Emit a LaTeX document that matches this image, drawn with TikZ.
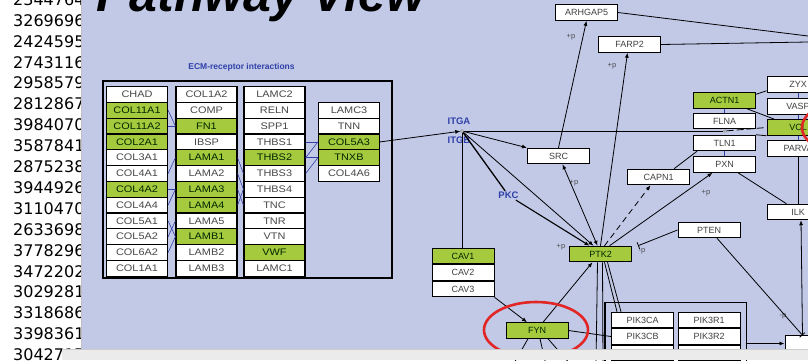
\documentclass[tikz,border=0pt]{standalone}
\usepackage{fontspec}
\setmainfont{Liberation Sans}
\newfontfamily\ecmfont[FakeStretch=1.15]{Liberation Sans}
\newfontfamily\numfont{DejaVu Sans}
\usetikzlibrary{positioning,calc,arrows.meta,fit,shapes.geometric}
\definecolor{panel}{RGB}{193,201,231}
\definecolor{hitgreen}{RGB}{166,202,62}
\definecolor{linkblue}{RGB}{48,64,168}
\definecolor{ringred}{RGB}{226,38,38}

\begin{document}
\begin{tikzpicture}[x=1pt, y=-1pt,
    gene/.style={draw=black, line width=1pt, fill=white, minimum width=62pt,
                 minimum height=15.5pt, inner sep=0pt, text=black!75,
                 font=\fontsize{9}{9}\selectfont},
    hitgene/.style={gene, fill=hitgreen, text=green!15!black},
    cell/.style={draw=black, line width=1.2pt, fill=white, minimum width=61pt,
                 minimum height=15.8pt, inner sep=0pt, text=black!72,
                 font=\ecmfont\fontsize{9.5}{9.5}\selectfont},
    nohit/.style={},
    hit/.style={fill=hitgreen, text=green!15!black},
    grpframe/.style={draw=black, line width=1.2pt},
    arr/.style={-{Latex[length=5pt,width=4pt]}, line width=0.8pt},
    link/.style={line width=0.8pt},
    ppi/.style={draw=linkblue, line width=0.6pt},
    famlab/.style={text=linkblue, font=\bfseries\fontsize{9.5}{9.5}\selectfont, inner sep=1pt},
    plab/.style={text=black!70, font=\fontsize{7.5}{7.5}\selectfont, inner sep=0pt},
    junc/.style={circle, draw=black!45, fill=white, inner sep=1pt, line width=0.6pt},
    ring/.style={draw=ringred, line width=2.6pt, ellipse, minimum width=104pt, minimum height=56pt}]
\useasboundingbox (0,0) rectangle (808,360);
\clip (0,0) rectangle (808,360);

% screen background
\fill[white] (0,0) rectangle (82,360);
\fill[panel] (82,0) rectangle (808,360);
\draw[black!25, line width=1.5pt] (81.5,0) -- (81.5,360);

% id column
\begin{scope}
  \clip (0,0) rectangle (80,360);
  \foreach \v [count=\i from 0] in {2344764,3269696,2424595,2743116,2958579,2812867,
      3984070,3587841,2875238,3944926,3110470,2633698,3778296,3472202,3029281,
      3318686,3398361,3042717}
    \node[anchor=west, inner sep=0pt, font=\numfont\fontsize{16}{16}\selectfont] (id\i)
      at (13,-0.5+20.9*\i) {\v};
\end{scope}

\node[anchor=base west, inner sep=0pt, font=\bfseries\itshape\fontsize{50}{50}\selectfont]
  (title) at (96,11) {Pathway View};

% ECM-receptor block
\node[famlab, font=\bfseries\fontsize{8.5}{8.5}\selectfont] (ecmt) at (241.5,67) {ECM-receptor interactions};
\node[grpframe, inner sep=0pt, fit={(103,81) (392,278)}] (ecm) {};
\foreach \g/\s [count=\i from 0] in {CHAD/nohit,COL11A1/hit,COL11A2/hit,COL2A1/hit,
    COL3A1/nohit,COL4A1/nohit,COL4A2/hit,COL4A4/nohit,COL5A1/nohit,COL5A2/nohit,
    COL6A2/nohit,COL1A1/nohit}
  \node[cell,\s] (a\i) at (137,94.5+15.8*\i) {\g};
\foreach \g/\s [count=\i from 0] in {COL1A2/nohit,COMP/nohit,FN1/hit,IBSP/nohit,
    LAMA1/hit,LAMA2/nohit,LAMA3/hit,LAMA4/hit,LAMA5/nohit,LAMB1/hit,LAMB2/nohit,
    LAMB3/nohit}
  \node[cell,\s] (b\i) at (206.5,94.5+15.8*\i) {\g};
\foreach \g/\s [count=\i from 0] in {LAMC2/nohit,RELN/nohit,SPP1/nohit,THBS1/nohit,
    THBS2/hit,THBS3/nohit,THBS4/nohit,TNC/nohit,TNR/nohit,VTN/nohit,VWF/hit,
    LAMC1/nohit}
  \node[cell,\s] (c\i) at (274.5,94.5+15.8*\i) {\g};
\foreach \g/\s [count=\i from 1] in {LAMC3/nohit,TNN/nohit,COL5A3/hit,TNXB/hit,COL4A6/nohit}
  \node[cell,\s] (d\i) at (349,94.5+15.8*\i) {\g};
\foreach \p/\q in {1/2,2/2,5/4,6/6,7/6,8/9,9/8,10/9}
  \draw[ppi] (a\p.east) -- (b\q.west);
\foreach \p/\q in {4/5,5/6,6/7,7/6}
  \draw[ppi] (b\p.east) -- (c\q.west);
\foreach \p/\q in {3/3,4/3,4/4,5/4}
  \draw[ppi] (c\p.east) -- (d\q.west);

% pathway genes
\node[gene] (arhgap5) at (586.5,12.5) {ARHGAP5};
\node[gene] (farp2) at (629.5,44.5) {FARP2};
\node[gene] (src) at (558.5,156) {SRC};
\node[hitgene] (cav1) at (463,256) {CAV1};
\node[gene, below=0pt of cav1] (cav2) {CAV2};
\node[gene, below=0pt of cav2] (cav3) {CAV3};
\node[hitgene] (fyn) at (537,330.5) {FYN};
\node[hitgene] (ptk2) at (600.5,254) {PTK2};
\node[gene] (capn1) at (658.5,177) {CAPN1};
\node[hitgene] (actn1) at (724.5,100.5) {ACTN1};
\node[gene] (flna) at (724.5,121) {FLNA};
\node[gene] (tln1) at (724.5,143) {TLN1};
\node[gene] (pxn) at (724.5,164.5) {PXN};
\node[gene] (zyx) at (798,84.5) {ZYX};
\node[gene] (vasp) at (798,106.5) {VASP};
\node[hitgene] (vcl) at (798,127.5) {VCL};
\node[gene] (parva) at (798,148.5) {PARVA};
\node[gene] (ilk) at (798,212) {ILK};
\node[gene] (pten) at (709,230) {PTEN};
\node[gene] (pik3ca) at (642.5,320) {PIK3CA};
\node[gene, below=0pt of pik3ca] (pik3cb) {PIK3CB};
\node[gene, below=0pt of pik3cb] (pik3cd) {PIK3CD};
\node[gene] (pik3r1) at (709,320) {PIK3R1};
\node[gene, below=0pt of pik3r1] (pik3r2) {PIK3R2};
\node[gene, below=0pt of pik3r2] (pik3r3) {PIK3R3};
\node[grpframe, inner xsep=6pt, inner ysep=9pt, fit=(pik3ca)(pik3r3)] (pik) {};
\node[gene] (bx) at (816,343.5) {};

% labels and junctions
\node[famlab] (itga) at (459,121) {ITGA};
\node[famlab] (itgb) at (459,140.5) {ITGB};
\node[famlab] (pkc) at (508.5,195.5) {PKC};
\node[junc] (itg) at (462,131) {};
\node[junc] (tj) at (725,131) {};
\node[plab] (p1) at (571,37) {+p};
\node[plab] (p2) at (612,66) {+p};
\node[plab] (p3) at (574,183) {+p};
\node[plab] (p4) at (561,247) {+p};
\node[plab] (p5) at (706,193) {+p};
\node[plab] (p6) at (642,251) {-p};
\node[plab] (p7) at (783,316) {-p};
\coordinate (rimA) at (808,36);
\coordinate (rimB) at (808,42);
\coordinate (fynA) at (513,365);
\coordinate (fynB) at (546,365);
\coordinate (fynC) at (571,365);
\coordinate (ptkA) at (596,365);
\coordinate (ptkB) at (603,365);

% connectors
\draw[arr] (d3.east) -- (itg);
\draw[link] (itg) -- (tj);
\draw[link, dash pattern=on 7pt off 3pt] (tj) -- (vcl.west);
\draw[arr] (itg) -- (src.north west);
\draw[link, line width=1.3pt] (itg) -- (pkc);
\draw[arr, line width=1.1pt] (pkc) -- ([xshift=-11pt]ptk2.north);
\draw[arr] (itg) -- ([xshift=-7pt]ptk2.north);
\draw[{Latex[length=5pt,width=4pt]}-{Latex[length=5pt,width=4pt]}, line width=0.8pt]
  ([xshift=4pt]src.south) -- ([xshift=-3pt]ptk2.north);
\draw[link] (itg) -- (itg |- cav1.north);
\draw[arr] (cav3.south east) -- ([xshift=-10pt]fyn.north);
\draw[arr] ([xshift=6pt]fyn.north) -- ([xshift=-8pt]ptk2.south);
\draw[link] (fyn.east) -- (pik3cb.west);
\draw[link] ([xshift=-9pt]fyn.south) -- (fynA);
\draw[link] ([xshift=3pt]fyn.south) -- (fynB);
\draw[link] ([xshift=11pt]fyn.south) -- (fynC);
\draw[link] ([xshift=-3pt]ptk2.south) -- (ptkA);
\draw[link] ([xshift=2pt]ptk2.south) -- (ptkB);
\draw[link] ([xshift=4pt]ptk2.south) -- ([xshift=6pt]pik3ca.north west);
\draw[link] ([xshift=7pt]ptk2.south) -- ([xshift=10pt]pik3ca.north west);
\draw[arr] (ptk2.north) -- ([xshift=-2pt]farp2.south);
\draw[arr] (src.north) -- (arhgap5.south);
\draw[link] (arhgap5.east) -- (rimA);
\draw[link] (farp2.east) -- (rimB);
\draw[arr, dash pattern=on 6pt off 4pt] ([xshift=4pt]ptk2.north) -- ([xshift=-8pt]capn1.south);
\draw[arr] ([xshift=9pt]ptk2.north) -- ([xshift=-12pt]pxn.south);
\draw[link, -{Bar[width=7pt]}] (pten.west) -- ([xshift=6pt]ptk2.north east);
\draw[link, -{Bar[width=7pt]}] ([xshift=8pt]pten.south) -- ([xshift=18pt]bx.north west);
\draw[arr] ([xshift=18pt]bx.north west) -- ([xshift=3pt]ilk.south);
\draw[arr] (pik.east |- bx.west) -- (bx.west);
\draw[link] ([xshift=-18pt]pxn.south east) -- ([xshift=20pt]ilk.north west);
\draw[link] (parva.south) -- (ilk.north);
\draw[link] ([yshift=-2pt]actn1.north east) -- ([yshift=2pt]zyx.south west);
\draw[link] ([xshift=-9pt]actn1.south east) -- ([xshift=8pt]vcl.north west);
\draw[link] (tln1.north east) -- (vcl.south west);
\draw[link] ([xshift=-16pt]capn1.north east) -- ([xshift=4pt]tln1.south west);
\foreach \u/\w in {actn1/flna, tln1/pxn, zyx/vasp, vasp/vcl, vcl/parva}
  \draw[ppi] (\u.south) -- (\w.north);

% highlight rings
\node[ring] (ring1) at (536,330) {};
\node[ring] (ring2) at ([xshift=56pt]vcl.center) {};

% window bottom bar
\fill[black!8] (62,349) rectangle (808,360);
\draw[black!20] (62,349) -- (808,349);
\end{tikzpicture}
\end{document}
